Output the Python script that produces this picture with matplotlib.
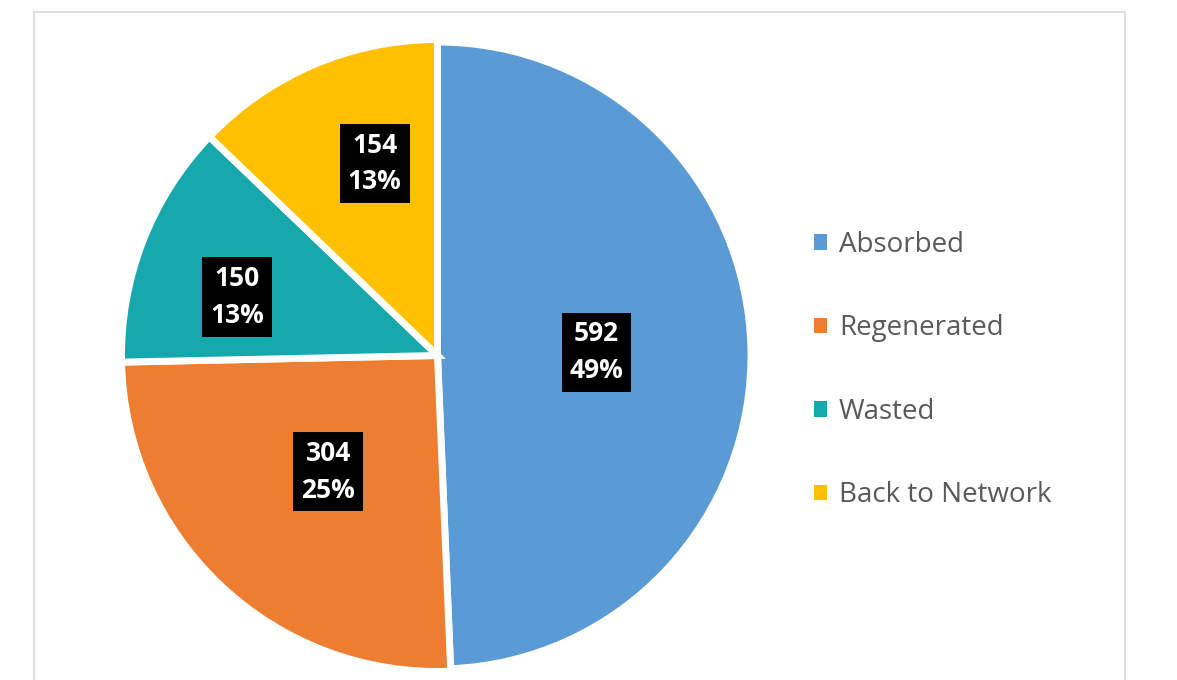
import numpy as np
import matplotlib
matplotlib.use("Agg")
import matplotlib.pyplot as plt
from matplotlib.patches import Rectangle

# ----------------------------------------------------------
# DATA
# ----------------------------------------------------------
categories = ["Absorbed", "Regenerated", "Wasted", "Back to Network"]
values = [592, 304, 150, 154]
colors = ["#5B9BD5", "#ED7D31", "#17A8AD", "#FFC000"]

# label placement (fraction of radius, angular nudge in deg)
label_dist = [0.503, 0.505, 0.661, 0.639]
label_nudge = [0, 0, 5, -5]

plt.rcParams["font.family"] = ["Open Sans", "DejaVu Sans"]

W, H = 1177, 680
fig = plt.figure(figsize=(W / 100, H / 100), dpi=100)
ax = fig.add_axes([0, 0, 1, 1])

# chart frame (runs off the bottom of the image)
ax.add_patch(Rectangle((34, -20), 1091, H - 12 + 20, fill=False,
                       edgecolor="#D9D9D9", linewidth=1.2, clip_on=False))

# ----------------------------------------------------------
# PIE
# ----------------------------------------------------------
R = 316
cx, cy = 437.5, H - 355.5
wedges, _ = ax.pie(values, colors=colors, startangle=90, counterclock=False,
                   radius=R, center=(cx, cy), explode=[0.006, 0, 0, 0],
                   wedgeprops=dict(edgecolor="white", linewidth=5),
                   frame=True)
ax.set_xlim(0, W)
ax.set_ylim(0, H)
ax.set_aspect("equal")
ax.axis("off")
wedges[0].set_radius(R - 2.5)

total = sum(values)
for w, v, d, nd in zip(wedges, values, label_dist, label_nudge):
    mid = np.deg2rad((w.theta1 + w.theta2) / 2 + nd)
    wx, wy = w.center
    x = wx + d * R * np.cos(mid)
    y = wy + d * R * np.sin(mid)
    pct = int(v * 100 / total + 0.5)
    ax.text(x, y, f"{v}\n{pct}%", ha="center", va="center",
            color="white", fontsize=19, fontweight="bold", linespacing=1.45,
            bbox=dict(boxstyle="square,pad=0.3", facecolor="black",
                      edgecolor="none"))

# ----------------------------------------------------------
# LEGEND
# ----------------------------------------------------------
handles = [Rectangle((0, 0), 1, 1, facecolor=c, edgecolor="none") for c in colors]
leg = fig.legend(handles, categories, loc="center left",
                 bbox_to_anchor=(800 / W, 1 - 370 / H), frameon=False,
                 fontsize=20, handlelength=0.48, handleheight=0.48,
                 handletextpad=0.42, labelspacing=2.0, borderpad=0)
for t in leg.get_texts():
    t.set_color("#595959")

fig.savefig("out.png", dpi=100)
